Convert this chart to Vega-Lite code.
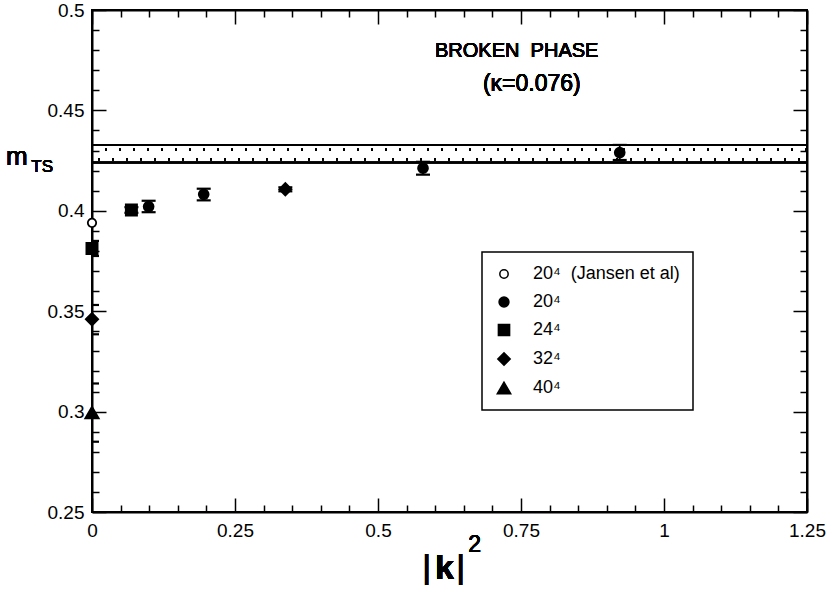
{
  "$schema": "https://vega.github.io/schema/vega-lite/v6.json",
  "width": 715,
  "height": 502,
  "autosize": {"type": "none"},
  "padding": {"left": 92, "top": 10, "right": 23, "bottom": 78},
  "background": "white",
  "config": {
    "font": "Liberation Sans",
    "view": {"stroke": "black", "strokeWidth": 2},
    "axis": {
      "grid": false,
      "domainColor": "black",
      "domainWidth": 2,
      "tickColor": "black",
      "tickWidth": 1.5,
      "labelColor": "black",
      "labelFontSize": 19,
      "labelFont": "Liberation Sans",
      "labelOverlap": false,
      "labelFlush": false
    },
    "legend": {
      "labelFont": "Liberation Sans",
      "labelFontSize": 18,
      "labelColor": "black",
      "labelLimit": 300,
      "strokeColor": "black",
      "strokeWidth": 1.5,
      "padding": 13,
      "rowPadding": 10,
      "labelOffset": 20
    }
  },
  "data": {
    "values": [
      {"series": "20⁴\u00a0\u00a0(Jansen et al)", "k2": 0, "m": 0.3940, "lo": null, "hi": null},
      {"series": "24⁴", "k2": 0, "m": 0.3812, "lo": 0.3775, "hi": 0.3850},
      {"series": "32⁴", "k2": 0, "m": 0.3460, "lo": 0.3385, "hi": 0.3531},
      {"series": "40⁴", "k2": 0, "m": 0.2995, "lo": 0.2850, "hi": 0.3140},
      {"series": "24⁴", "k2": 0.0689, "m": 0.4004, "lo": 0.3990, "hi": 0.4018},
      {"series": "20⁴", "k2": 0.0990, "m": 0.4021, "lo": 0.3993, "hi": 0.4050},
      {"series": "20⁴", "k2": 0.1953, "m": 0.4082, "lo": 0.4052, "hi": 0.4110},
      {"series": "32⁴", "k2": 0.3380, "m": 0.4107, "lo": 0.4097, "hi": 0.4117},
      {"series": "20⁴", "k2": 0.5787, "m": 0.4212, "lo": 0.4180, "hi": 0.4244},
      {"series": "20⁴", "k2": 0.9226, "m": 0.4290, "lo": 0.4253, "hi": 0.4328}
    ]
  },
  "layer": [
    {
      "layer": [
        {
          "mark": {"type": "rule", "color": "black", "strokeWidth": 1.5},
          "encoding": {"y": {"datum": 0.4329, "type": "quantitative"}}
        },
        {
          "mark": {"type": "rule", "color": "black", "strokeWidth": 1.5},
          "encoding": {"y": {"datum": 0.4240, "type": "quantitative"}}
        },
        {
          "mark": {"type": "rule", "color": "black", "strokeWidth": 2, "strokeDash": [2, 12], "strokeDashOffset": 0},
          "encoding": {"y": {"datum": 0.4304, "type": "quantitative"}}
        },
        {
          "mark": {"type": "rule", "color": "black", "strokeWidth": 2, "strokeDash": [2, 12], "strokeDashOffset": 7},
          "encoding": {"y": {"datum": 0.4257, "type": "quantitative"}}
        },
        {
          "transform": [{"filter": "isValid(datum.lo)"}],
          "mark": {
            "type": "errorbar", "color": "black", "clip": true,
            "rule": {"color": "black", "opacity": 1, "strokeWidth": 1.8},
            "ticks": {"size": 14, "thickness": 2.2, "color": "black", "opacity": 1}
          },
          "encoding": {
            "x": {"field": "k2", "type": "quantitative"},
            "y": {"field": "lo", "type": "quantitative"},
            "y2": {"field": "hi"}
          }
        },
        {
          "mark": {"type": "point", "filled": true, "stroke": "black", "strokeWidth": 1.8, "opacity": 1},
          "encoding": {
            "x": {
              "field": "k2", "type": "quantitative",
              "scale": {"domain": [0, 1.25], "nice": false, "zero": false},
              "axis": {
                "orient": "bottom", "title": null, "format": "~g",
                "labelOverlap": false, "labelFontSize": 19, "labelFlush": false,
                "values": [0, 0.25, 0.5, 0.75, 1, 1.25],
                "tickSize": -14,
                "labelPadding": 23
              }
            },
            "y": {
              "field": "m", "type": "quantitative",
              "scale": {"domain": [0.25, 0.5], "nice": false, "zero": false},
              "axis": {
                "orient": "left", "title": null, "format": "~g",
                "labelOverlap": false, "labelFontSize": 19, "labelFlush": false,
                "values": [0.25, 0.3, 0.35, 0.4, 0.45, 0.5],
                "tickSize": -14,
                "labelPadding": 22
              }
            },
            "shape": {
              "field": "series", "type": "nominal",
              "scale": {"domain": ["20⁴\u00a0\u00a0(Jansen et al)", "20⁴", "24⁴", "32⁴", "40⁴"], "range": ["circle", "circle", "square", "diamond", "triangle-up"]},
              "legend": {"title": null, "orient": "none", "legendX": 390, "legendY": 242,
                "encode": {"symbols": {"update": {"stroke": {"value": "black"}, "strokeWidth": {"value": 1.8}}}}}
            },
            "fill": {
              "field": "series", "type": "nominal",
              "scale": {"domain": ["20⁴\u00a0\u00a0(Jansen et al)", "20⁴", "24⁴", "32⁴", "40⁴"], "range": ["white", "black", "black", "black", "black"]},
              "legend": {"title": null, "orient": "none", "legendX": 390, "legendY": 242,
                "encode": {"symbols": {"update": {"stroke": {"value": "black"}, "strokeWidth": {"value": 1.8}}}}}
            },
            "size": {
              "field": "series", "type": "nominal",
              "scale": {"domain": ["20⁴\u00a0\u00a0(Jansen et al)", "20⁴", "24⁴", "32⁴", "40⁴"], "range": [70, 180, 140, 230, 260]},
              "legend": {"title": null, "orient": "none", "legendX": 390, "legendY": 242,
                "encode": {"symbols": {"update": {"stroke": {"value": "black"}, "strokeWidth": {"value": 1.8}}}}}
            }
          }
        },
        {
          "mark": {"type": "text", "fontSize": 20, "fontWeight": "normal", "color": "black", "align": "center", "baseline": "middle"},
          "encoding": {"x": {"datum": 0.7425, "type": "quantitative"}, "y": {"datum": 0.4795, "type": "quantitative"}, "text": {"value": "BROKEN\u00a0\u00a0PHASE"}}
        },
        {
          "mark": {"type": "text", "fontSize": 23, "fontWeight": "normal", "color": "black", "align": "center", "baseline": "middle"},
          "encoding": {"x": {"datum": 0.769, "type": "quantitative"}, "y": {"datum": 0.4632, "type": "quantitative"}, "text": {"value": "(κ=0.076)"}}
        },
        {
          "mark": {"type": "text", "fontSize": 26, "fontWeight": "normal", "color": "black", "align": "center", "baseline": "middle"},
          "encoding": {"x": {"datum": -0.1316, "type": "quantitative"}, "y": {"datum": 0.4268, "type": "quantitative"}, "text": {"value": "m"}}
        },
        {
          "mark": {"type": "text", "fontSize": 17, "fontWeight": "normal", "color": "black", "align": "center", "baseline": "middle"},
          "encoding": {"x": {"datum": -0.0871, "type": "quantitative"}, "y": {"datum": 0.4218, "type": "quantitative"}, "text": {"value": "TS"}}
        },
        {
          "mark": {"type": "text", "fontSize": 34, "fontWeight": "normal", "color": "black", "align": "center", "baseline": "middle"},
          "encoding": {"x": {"datum": 0.5852, "type": "quantitative"}, "y": {"datum": 0.2220, "type": "quantitative"}, "text": {"value": "|"}}
        },
        {
          "mark": {"type": "text", "fontSize": 34, "fontWeight": "bold", "color": "black", "align": "center", "baseline": "middle"},
          "encoding": {"x": {"datum": 0.6161, "type": "quantitative"}, "y": {"datum": 0.2214, "type": "quantitative"}, "text": {"value": "k"}}
        },
        {
          "mark": {"type": "text", "fontSize": 34, "fontWeight": "normal", "color": "black", "align": "center", "baseline": "middle"},
          "encoding": {"x": {"datum": 0.6446, "type": "quantitative"}, "y": {"datum": 0.2220, "type": "quantitative"}, "text": {"value": "|"}}
        },
        {
          "mark": {"type": "text", "fontSize": 23, "fontWeight": "normal", "color": "black", "align": "center", "baseline": "middle"},
          "encoding": {"x": {"datum": 0.6690, "type": "quantitative"}, "y": {"datum": 0.2336, "type": "quantitative"}, "text": {"value": "2"}}
        }
      ]
    },
    {
      "mark": {"type": "point", "opacity": 0},
      "encoding": {
        "x": {
          "field": "k2", "type": "quantitative",
          "scale": {"domain": [0, 1.25], "nice": false, "zero": false},
          "axis": {"orient": "top", "title": null, "labels": false, "values": [0, 0.25, 0.5, 0.75, 1, 1.25], "tickSize": -14}
        },
        "y": {
          "field": "m", "type": "quantitative",
          "scale": {"domain": [0.25, 0.5], "nice": false, "zero": false},
          "axis": {"orient": "right", "title": null, "labels": false, "values": [0.25, 0.3, 0.35, 0.4, 0.45, 0.5], "tickSize": -14}
        }
      }
    },
    {
      "mark": {"type": "point", "opacity": 0},
      "encoding": {
        "x": {
          "field": "k2", "type": "quantitative",
          "scale": {"domain": [0, 1.25], "nice": false, "zero": false},
          "axis": {"orient": "bottom", "title": null, "labels": false, "domain": false, "tickSize": -7,
            "values": [0.05,0.1,0.15,0.2,0.3,0.35,0.4,0.45,0.55,0.6,0.65,0.7,0.8,0.85,0.9,0.95,1.05,1.1,1.15,1.2]}
        },
        "y": {
          "field": "m", "type": "quantitative",
          "scale": {"domain": [0.25, 0.5], "nice": false, "zero": false},
          "axis": {"orient": "left", "title": null, "labels": false, "domain": false, "tickSize": -7,
            "values": [0.26,0.27,0.28,0.29,0.31,0.32,0.33,0.34,0.36,0.37,0.38,0.39,0.41,0.42,0.43,0.44,0.46,0.47,0.48,0.49]}
        }
      }
    },
    {
      "mark": {"type": "point", "opacity": 0},
      "encoding": {
        "x": {
          "field": "k2", "type": "quantitative",
          "scale": {"domain": [0, 1.25], "nice": false, "zero": false},
          "axis": {"orient": "top", "title": null, "labels": false, "domain": false, "tickSize": -7,
            "values": [0.05,0.1,0.15,0.2,0.3,0.35,0.4,0.45,0.55,0.6,0.65,0.7,0.8,0.85,0.9,0.95,1.05,1.1,1.15,1.2]}
        },
        "y": {
          "field": "m", "type": "quantitative",
          "scale": {"domain": [0.25, 0.5], "nice": false, "zero": false},
          "axis": {"orient": "right", "title": null, "labels": false, "domain": false, "tickSize": -7,
            "values": [0.26,0.27,0.28,0.29,0.31,0.32,0.33,0.34,0.36,0.37,0.38,0.39,0.41,0.42,0.43,0.44,0.46,0.47,0.48,0.49]}
        }
      }
    }
  ],
  "resolve": {"axis": {"x": "independent", "y": "independent"}}
}
